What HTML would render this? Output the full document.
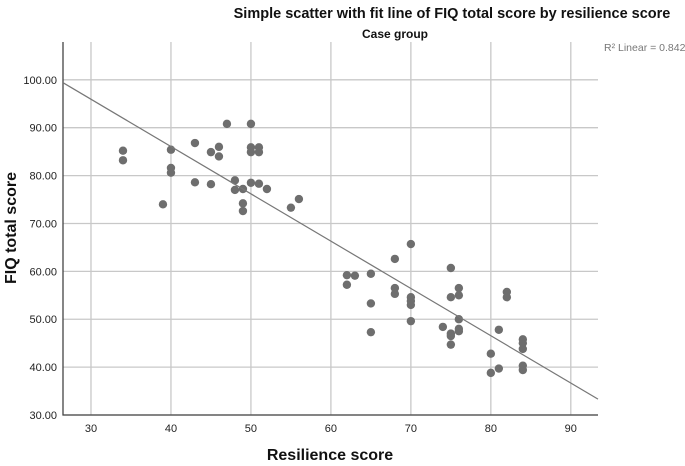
<!DOCTYPE html>
<html><head><meta charset="utf-8"><style>
body{margin:0;background:#fff;font-family:"Liberation Sans",sans-serif}
svg text{font-family:"Liberation Sans",sans-serif}
</style></head><body>
<svg id="c" width="685" height="461">
<text x="452" y="18" text-anchor="middle" font-size="14.5" font-weight="bold" fill="#111">Simple scatter with fit line of FIQ total score by resilience score</text>
<text x="395" y="38" text-anchor="middle" font-size="12" font-weight="bold" fill="#111">Case group</text>
<text x="604" y="51" font-size="10.5" fill="#777">R² Linear = 0.842</text>
<text x="330" y="461" text-anchor="middle" font-size="16" font-weight="bold" fill="#111" dy="-1">Resilience score</text>
<text transform="translate(16,228) rotate(-90)" text-anchor="middle" font-size="16" font-weight="bold" fill="#111">FIQ total score</text>
<g id="grid"></g><g id="marks"></g>
</svg>
<script>
const xTicks=[30,40,50,60,70,80,90];
const yTicks=[30,40,50,60,70,80,90,100];
const resilience=[34,34,39,40,40,40,43,43,45,45,46,46,47,48,48,49,49,49,50,50,50,50,51,51,51,52,55,56,62,62,63,65,65,65,68,68,68,70,70,70,70,70,74,75,75,75,75,75,76,76,76,76,76,80,80,81,81,82,82,84,84,84,84,84];
const fiq=[85.2,83.2,74,85.4,81.6,80.6,86.8,78.6,84.9,78.2,86,84,90.8,79,77,77.2,74.2,72.6,90.8,85.9,84.9,78.5,85.9,84.9,78.3,77.2,73.3,75.1,59.2,57.2,59.1,59.5,53.3,47.3,62.6,56.5,55.3,65.7,54.6,53.8,53,49.6,48.4,60.7,54.6,47,46.5,44.7,56.5,55,50,48,47.5,42.8,38.8,47.8,39.7,55.7,54.6,45.8,45,43.8,40.3,39.4];
const L=63,R=598,T=42,B=415,xmin=26.5,xmax=93.4,ymin=30,ymax=107.9;
const sx=v=>L+(v-xmin)/(xmax-xmin)*(R-L), sy=v=>B-(v-ymin)/(ymax-ymin)*(B-T);
const NS="http://www.w3.org/2000/svg";
const g=document.getElementById('grid'),m=document.getElementById('marks');
function mk(p,tag,a){const e=document.createElementNS(NS,tag);for(const k in a)e.setAttribute(k,a[k]);p.appendChild(e);return e;}
xTicks.forEach(t=>{
 const l=mk(g,'line',{x1:sx(t),x2:sx(t),y1:T,y2:B,stroke:'#c8c8c8','stroke-width':1.3});
 
 
 const tx=mk(g,'text',{x:sx(t),y:B+17,'text-anchor':'middle','font-size':11,fill:'#222'});tx.textContent=t;
 
 
});
yTicks.forEach(t=>{
 const l=mk(g,'line',{x1:L,x2:R,y1:sy(t),y2:sy(t),stroke:'#c8c8c8','stroke-width':1.3});
 
 
 const tx=mk(g,'text',{x:L-6,y:sy(t)+4,'text-anchor':'end','font-size':11,fill:'#222'});tx.textContent=t.toFixed(2);
 
 
});
const ax=mk(g,'path',{d:`M${L},${T}V${B}H${R}`,stroke:'#444',fill:'none','stroke-width':1.3});


resilience.forEach((x,i)=>{
 const c=mk(m,'circle',{cx:sx(x),cy:sy(fiq[i]),r:4.2,fill:'#6e6e6e'});
 
 
});
const n=resilience.length,mx=resilience.reduce((a,b)=>a+b)/n,my=fiq.reduce((a,b)=>a+b)/n;
let sxy=0,sxx=0;resilience.forEach((x,i)=>{sxy+=(x-mx)*(fiq[i]-my);sxx+=(x-mx)**2;});
const b=sxy/sxx,a=my-b*mx;
const fl=mk(m,'line',{x1:sx(xmin),y1:sy(a+b*xmin),x2:sx(xmax),y2:sy(a+b*xmax),stroke:'#777','stroke-width':1.2});


</script>
</body></html>
